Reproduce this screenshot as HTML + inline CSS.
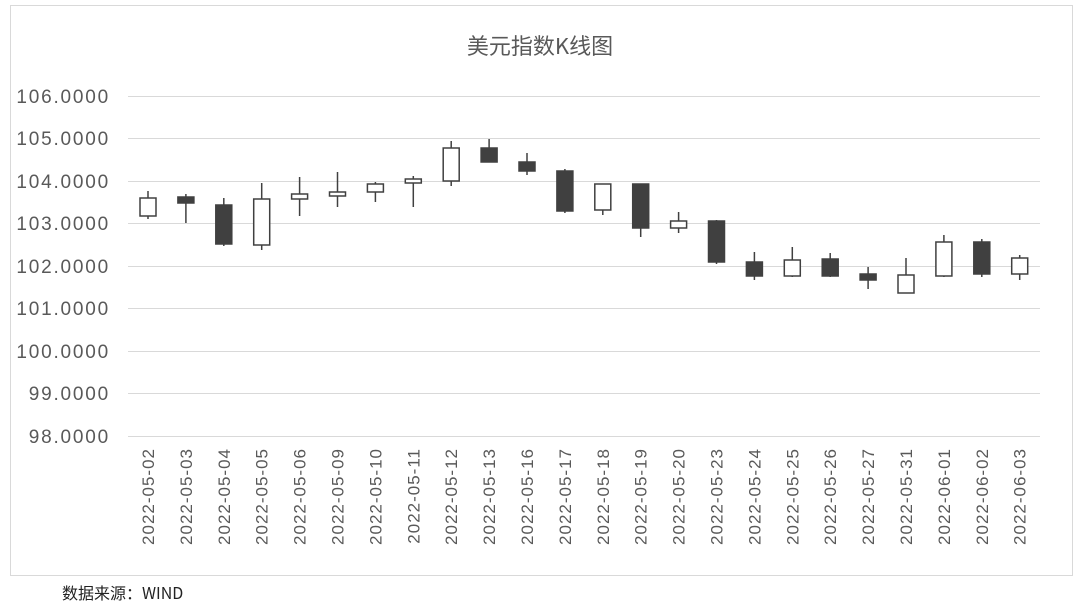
<!DOCTYPE html><html><head><meta charset="utf-8"><style>body{margin:0;background:#fff;width:1080px;height:608px;overflow:hidden}</style></head><body>
<svg width="1080" height="608" xmlns="http://www.w3.org/2000/svg" font-family="Liberation Sans, Noto Sans CJK SC, sans-serif">
<rect x="10.5" y="5.5" width="1062" height="570" fill="#fff" stroke="#d9d9d9"/>
<text x="540" y="54" text-anchor="middle" font-size="22" fill="#595959" font-family="Noto Sans CJK SC, sans-serif">美元指数K线图</text>
<g stroke="#d9d9d9" stroke-width="1">
<line x1="128" x2="1040" y1="96.5" y2="96.5"/><line x1="128" x2="1040" y1="138.5" y2="138.5"/><line x1="128" x2="1040" y1="181.5" y2="181.5"/><line x1="128" x2="1040" y1="223.5" y2="223.5"/><line x1="128" x2="1040" y1="266.5" y2="266.5"/><line x1="128" x2="1040" y1="308.5" y2="308.5"/><line x1="128" x2="1040" y1="351.5" y2="351.5"/><line x1="128" x2="1040" y1="393.5" y2="393.5"/><line x1="128" x2="1040" y1="436.5" y2="436.5"/>
</g>
<g font-size="19" letter-spacing="1.8" fill="#595959" text-anchor="end">
<text x="110" y="103">106.0000</text><text x="110" y="145">105.0000</text><text x="110" y="188">104.0000</text><text x="110" y="230">103.0000</text><text x="110" y="273">102.0000</text><text x="110" y="315">101.0000</text><text x="110" y="358">100.0000</text><text x="110" y="400">99.0000</text><text x="110" y="443">98.0000</text>
</g>
<g stroke="#404040" stroke-width="1.5">
<line x1="148" x2="148" y1="191" y2="219"/><rect x="140" y="198" width="16" height="18" fill="#fff"/>
<line x1="185.9" x2="185.9" y1="194" y2="223"/><rect x="177.9" y="197" width="16" height="6" fill="#404040"/>
<line x1="223.8" x2="223.8" y1="198" y2="246"/><rect x="215.8" y="205" width="16" height="39" fill="#404040"/>
<line x1="261.7" x2="261.7" y1="183" y2="250"/><rect x="253.7" y="199" width="16" height="46" fill="#fff"/>
<line x1="299.6" x2="299.6" y1="177" y2="216"/><rect x="291.6" y="194" width="16" height="5" fill="#fff"/>
<line x1="337.5" x2="337.5" y1="172" y2="207"/><rect x="329.5" y="192" width="16" height="4" fill="#fff"/>
<line x1="375.4" x2="375.4" y1="182" y2="202"/><rect x="367.4" y="184" width="16" height="8" fill="#fff"/>
<line x1="413.3" x2="413.3" y1="176" y2="207"/><rect x="405.3" y="179" width="16" height="4" fill="#fff"/>
<line x1="451.2" x2="451.2" y1="141" y2="186"/><rect x="443.2" y="148" width="16" height="33" fill="#fff"/>
<line x1="489.1" x2="489.1" y1="139" y2="162"/><rect x="481.1" y="148" width="16" height="14" fill="#404040"/>
<line x1="527" x2="527" y1="153" y2="175"/><rect x="519" y="162" width="16" height="9" fill="#404040"/>
<line x1="564.9" x2="564.9" y1="169" y2="213"/><rect x="556.9" y="171" width="16" height="40" fill="#404040"/>
<line x1="602.8" x2="602.8" y1="184" y2="215"/><rect x="594.8" y="184" width="16" height="26" fill="#fff"/>
<line x1="640.7" x2="640.7" y1="184" y2="237"/><rect x="632.7" y="184" width="16" height="44" fill="#404040"/>
<line x1="678.6" x2="678.6" y1="212" y2="233"/><rect x="670.6" y="221" width="16" height="7" fill="#fff"/>
<line x1="716.5" x2="716.5" y1="220" y2="264"/><rect x="708.5" y="221" width="16" height="41" fill="#404040"/>
<line x1="754.4" x2="754.4" y1="252" y2="280"/><rect x="746.4" y="262" width="16" height="14" fill="#404040"/>
<line x1="792.3" x2="792.3" y1="247" y2="277"/><rect x="784.3" y="260" width="16" height="16" fill="#fff"/>
<line x1="830.2" x2="830.2" y1="253" y2="277"/><rect x="822.2" y="259" width="16" height="17" fill="#404040"/>
<line x1="868.1" x2="868.1" y1="267" y2="289"/><rect x="860.1" y="274" width="16" height="6" fill="#404040"/>
<line x1="906" x2="906" y1="258" y2="293"/><rect x="898" y="275" width="16" height="18" fill="#fff"/>
<line x1="943.9" x2="943.9" y1="235" y2="277"/><rect x="935.9" y="242" width="16" height="34" fill="#fff"/>
<line x1="981.8" x2="981.8" y1="239" y2="277"/><rect x="973.8" y="242" width="16" height="32" fill="#404040"/>
<line x1="1019.7" x2="1019.7" y1="255" y2="280"/><rect x="1011.7" y="258" width="16" height="16" fill="#fff"/>
</g>
<g font-size="17" letter-spacing="1" fill="#595959" text-anchor="end">
<text transform="translate(154,448) rotate(-90)">2022-05-02</text>
<text transform="translate(191.9,448) rotate(-90)">2022-05-03</text>
<text transform="translate(229.8,448) rotate(-90)">2022-05-04</text>
<text transform="translate(267.7,448) rotate(-90)">2022-05-05</text>
<text transform="translate(305.6,448) rotate(-90)">2022-05-06</text>
<text transform="translate(343.5,448) rotate(-90)">2022-05-09</text>
<text transform="translate(381.4,448) rotate(-90)">2022-05-10</text>
<text transform="translate(419.3,448) rotate(-90)">2022-05-11</text>
<text transform="translate(457.2,448) rotate(-90)">2022-05-12</text>
<text transform="translate(495.1,448) rotate(-90)">2022-05-13</text>
<text transform="translate(533,448) rotate(-90)">2022-05-16</text>
<text transform="translate(570.9,448) rotate(-90)">2022-05-17</text>
<text transform="translate(608.8,448) rotate(-90)">2022-05-18</text>
<text transform="translate(646.7,448) rotate(-90)">2022-05-19</text>
<text transform="translate(684.6,448) rotate(-90)">2022-05-20</text>
<text transform="translate(722.5,448) rotate(-90)">2022-05-23</text>
<text transform="translate(760.4,448) rotate(-90)">2022-05-24</text>
<text transform="translate(798.3,448) rotate(-90)">2022-05-25</text>
<text transform="translate(836.2,448) rotate(-90)">2022-05-26</text>
<text transform="translate(874.1,448) rotate(-90)">2022-05-27</text>
<text transform="translate(912,448) rotate(-90)">2022-05-31</text>
<text transform="translate(949.9,448) rotate(-90)">2022-06-01</text>
<text transform="translate(987.8,448) rotate(-90)">2022-06-02</text>
<text transform="translate(1025.7,448) rotate(-90)">2022-06-03</text>
</g>
<text x="62" y="599" font-size="16" fill="#222" font-family="Noto Sans CJK SC, sans-serif">数据来源：WIND</text>
</svg></body></html>
